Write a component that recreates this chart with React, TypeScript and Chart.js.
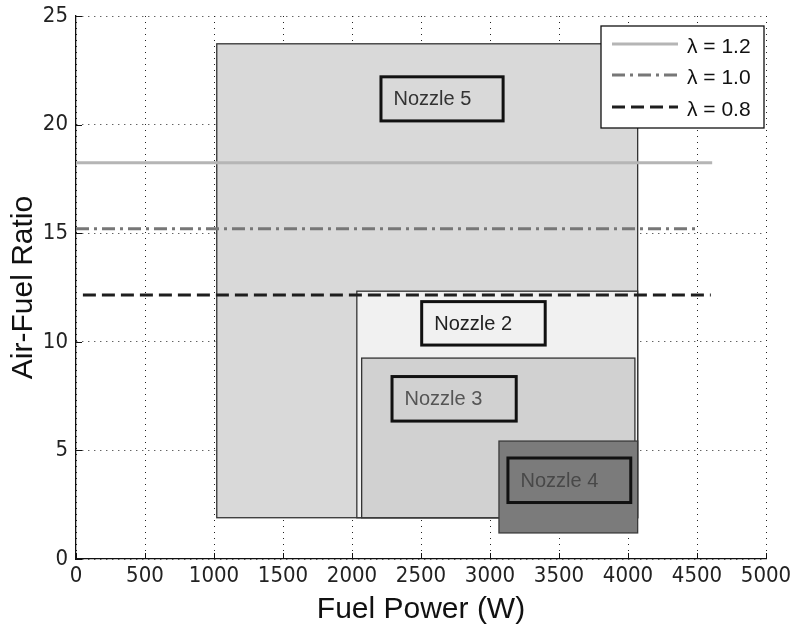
import { useEffect, useRef } from 'react';
import { Chart, registerables } from 'chart.js';

Chart.register(...registerables);

// ---- data ----
const lambdaLabels = ['λ = 1.2', 'λ = 1.0', 'λ = 0.8'];
const lambdaAFR = [18.24, 15.2, 12.16];
const lambdaXStart = [0, 0, 50];
const lambdaXEnd = [4610, 4520, 4600];

const nozzleNames = ['Nozzle 5', 'Nozzle 2', 'Nozzle 3', 'Nozzle 4'];
const nozzleXMin = [1020, 2035, 2070, 3065];
const nozzleXMax = [4070, 4070, 4050, 4070];
const nozzleYMin = [1.9, 1.9, 1.9, 1.2];
const nozzleYMax = [23.72, 12.33, 9.25, 5.43];

const labelXMin = [2210, 2505, 2290, 3130];
const labelXMax = [3095, 3400, 3190, 4020];
const labelYMin = [20.17, 9.85, 6.35, 2.6];
const labelYMax = [22.2, 11.85, 8.4, 4.65];

const xMin = 0, xMax = 5000, xStep = 500;
const yMin = 0, yMax = 25, yStep = 5;

// ---- styles ----
const nozzleFill = ['#d9d9d9', '#f1f1f1', '#d1d1d1', '#7b7b7b'];
const nozzleEdge = ['#333333', '#333333', '#333333', '#3a3a3a'];
const nozzleText = ['#333333', '#222222', '#555555', '#484848'];
const lambdaColors = ['#b5b5b5', '#777777', '#1e1e1e'];
const lambdaDash = [[], [13, 5, 3, 5], [13, 6]];

const NARROW = '"Liberation Sans Narrow", "DejaVu Sans Condensed", "Liberation Sans", Arial, sans-serif';
const SANS = '"Liberation Sans", Arial, Helvetica, sans-serif';

const nozzlePlugin = {
  id: 'nozzles',
  beforeDatasetsDraw(chart: any) {
    const { ctx, scales } = chart;
    const x = scales.x, y = scales.y;
    ctx.save();
    for (let i = 0; i < nozzleNames.length; i++) {
      const l = x.getPixelForValue(nozzleXMin[i]);
      const r = x.getPixelForValue(nozzleXMax[i]);
      const t = y.getPixelForValue(nozzleYMax[i]);
      const b = y.getPixelForValue(nozzleYMin[i]);
      ctx.fillStyle = nozzleFill[i];
      ctx.fillRect(l, t, r - l, b - t);
      ctx.strokeStyle = nozzleEdge[i];
      ctx.lineWidth = 1.3;
      ctx.strokeRect(l, t, r - l, b - t);
    }
    for (let i = 0; i < nozzleNames.length; i++) {
      const l = x.getPixelForValue(labelXMin[i]);
      const r = x.getPixelForValue(labelXMax[i]);
      const t = y.getPixelForValue(labelYMax[i]);
      const b = y.getPixelForValue(labelYMin[i]);
      ctx.strokeStyle = '#111111';
      ctx.lineWidth = 3;
      ctx.strokeRect(l, t, r - l, b - t);
      ctx.fillStyle = nozzleText[i];
      ctx.font = '20px ' + SANS;
      ctx.textAlign = 'left';
      ctx.textBaseline = 'middle';
      ctx.fillText(nozzleNames[i], l + 12.5, (t + b) / 2 + 1);
    }
    ctx.restore();
  },
  afterDraw(chart: any) {
    const { ctx, chartArea, scales } = chart;
    const x = scales.x, y = scales.y;
    ctx.save();
    // inward ticks
    ctx.strokeStyle = '#111111';
    ctx.lineWidth = 1;
    ctx.setLineDash([]);
    ctx.beginPath();
    for (let v = xMin; v <= xMax; v += xStep) {
      const px = Math.round(x.getPixelForValue(v)) + 0.5;
      ctx.moveTo(px, chartArea.bottom);
      ctx.lineTo(px, chartArea.bottom - 6);
    }
    for (let v = yMin; v <= yMax; v += yStep) {
      const py = Math.round(y.getPixelForValue(v)) + 0.5;
      ctx.moveTo(chartArea.left, py);
      ctx.lineTo(chartArea.left + 6, py);
    }
    ctx.stroke();

    // legend
    const bx = chartArea.right - 165;
    const by = chartArea.top + 10;
    const bw = 163;
    const bh = 102;
    ctx.fillStyle = '#ffffff';
    ctx.fillRect(bx, by, bw, bh);
    ctx.strokeStyle = '#111111';
    ctx.lineWidth = 1.3;
    ctx.strokeRect(bx, by, bw, bh);
    const rows = [18, 49, 81];
    chart.data.datasets.forEach((ds: any, i: number) => {
      const ry = by + rows[i];
      ctx.strokeStyle = ds.borderColor;
      ctx.lineWidth = ds.borderWidth;
      ctx.setLineDash(ds.borderDash || []);
      ctx.beginPath();
      ctx.moveTo(bx + 11, ry);
      ctx.lineTo(bx + 77, ry);
      ctx.stroke();
      ctx.setLineDash([]);
      ctx.fillStyle = '#111111';
      ctx.font = '21px ' + SANS;
      ctx.textAlign = 'left';
      ctx.textBaseline = 'middle';
      ctx.fillText(ds.label, bx + 86, ry + 3);
    });
    ctx.restore();
  },
};

export default function App() {
  const ref = useRef<HTMLCanvasElement | null>(null);

  useEffect(() => {
    if (!ref.current) return;
    const datasets = lambdaLabels.map((label, i) => ({
      label,
      data: [
        { x: lambdaXStart[i], y: lambdaAFR[i] },
        { x: lambdaXEnd[i], y: lambdaAFR[i] },
      ],
      borderColor: lambdaColors[i],
      borderWidth: 3,
      borderDash: lambdaDash[i],
      pointRadius: 0,
      fill: false,
      tension: 0,
    }));

    const chart = new Chart(ref.current, {
      type: 'line',
      data: { datasets },
      plugins: [nozzlePlugin],
      options: {
        responsive: false,
        animation: false,
        layout: { padding: { top: 16, right: 25, left: 0, bottom: 0 } },
        plugins: {
          legend: { display: false },
          tooltip: { enabled: false },
        },
        scales: {
          x: {
            type: 'linear',
            min: xMin,
            max: xMax,
            afterFit: (s: any) => {
              s.height = 69;
              s.paddingLeft = 0;
              s.paddingRight = 0;
            },
            ticks: {
              stepSize: xStep,
              color: '#222222',
              font: { family: NARROW, size: 22 },
              padding: 4,
              maxRotation: 0,
              autoSkip: false,
              callback: (v: any) => String(v),
            },
            grid: {
              color: '#222222',
              lineWidth: 1,
              drawTicks: false,
            },
            border: { display: true, color: '#111111', width: 1.3, dash: [1, 5] },
            title: {
              display: true,
              text: 'Fuel Power (W)',
              color: '#111111',
              font: { family: SANS, size: 30 },
              padding: { top: 0, bottom: 0 },
            },
          },
          y: {
            type: 'linear',
            min: yMin,
            max: yMax,
            afterFit: (s: any) => {
              s.width = 76;
              s.paddingTop = 0;
              s.paddingBottom = 0;
            },
            ticks: {
              stepSize: yStep,
              color: '#222222',
              font: { family: NARROW, size: 22 },
              padding: 8,
              callback: (v: any) => String(v),
            },
            grid: {
              color: '#222222',
              lineWidth: 1,
              drawTicks: false,
            },
            border: { display: true, color: '#111111', width: 1.3, dash: [1, 5] },
            title: {
              display: true,
              text: 'Air-Fuel Ratio',
              color: '#111111',
              font: { family: SANS, size: 30 },
              padding: { top: 6, bottom: 0 },
            },
          },
        },
      } as any,
    });
    return () => chart.destroy();
  }, []);

  return (
    <div style={{ position: 'absolute', left: 0, top: 0, width: 791, height: 628, background: '#ffffff' }}>
      <canvas ref={ref} width={791} height={628} style={{ width: 791, height: 628, display: 'block' }} />
    </div>
  );
}
